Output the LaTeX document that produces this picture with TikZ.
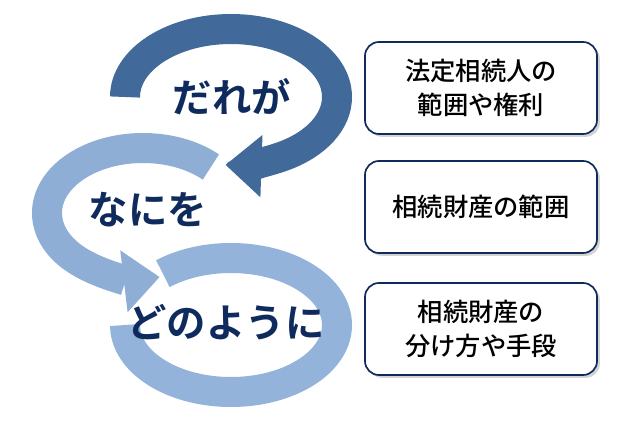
\documentclass[tikz,border=0pt]{standalone}
\usepackage{fontspec}
\newfontfamily\jpbold{Noto Sans CJK JP Bold}
\newfontfamily\jp{Noto Sans CJK JP Medium}
\usetikzlibrary{arrows.meta,shadows}
\definecolor{ringdark}{HTML}{41699A}
\definecolor{ringmid}{HTML}{8EAED6}
\definecolor{ringlight}{HTML}{93B3DA}
\definecolor{navy}{HTML}{0F2A5C}
\tikzset{
  ring/.style={line width=0.75cm},
  word/.style={font=\jpbold\fontsize{28}{28}\selectfont, text=navy},
  infobox/.style={draw=navy, line width=1.2pt, rounded corners=10pt, fill=white,
    minimum width=5.8cm, minimum height=2.3cm, align=center,
    font=\jp\fontsize{18}{24}\selectfont, drop shadow={shadow xshift=2pt, shadow yshift=-2pt, opacity=0.35}}
}
\begin{document}
\begin{tikzpicture}[x=0.025cm,y=-0.025cm]
  \useasboundingbox (0,0) rectangle (640,427);

  % bottom ring
  \draw[ring, ringlight] (231,325) ++(-130:106 and 67) arc[start angle=-130, end angle=180, x radius=106, y radius=67];
  % middle ring
  \draw[ring, ringmid, -{Triangle[width=1.5cm, length=0.9cm]}] (143,213) ++(-45:96 and 65) arc[start angle=-45, end angle=-280, x radius=96, y radius=65];
  % top ring
  \draw[white, line width=0.95cm] (231,97) ++(440:106 and 68) arc[start angle=440, end angle=450, x radius=106, y radius=68];
  \draw[ring, ringdark, -{Triangle[width=1.5cm, length=0.9cm]}] (231,97) ++(180:106 and 68) arc[start angle=180, end angle=453, x radius=106, y radius=68];

  \node[word] (who) at (232,97) {だれが};
  \node[word] (what) at (148,210) {なにを};
  \node[word] (how) at (226,322) {どのように};

  \node[infobox] (heirs) at (481,88) {法定相続人の\\範囲や権利};
  \node[infobox] (estate) at (481,207) {相続財産の範囲};
  \node[infobox] (split) at (481,329) {相続財産の\\分け方や手段};
\end{tikzpicture}
\end{document}
